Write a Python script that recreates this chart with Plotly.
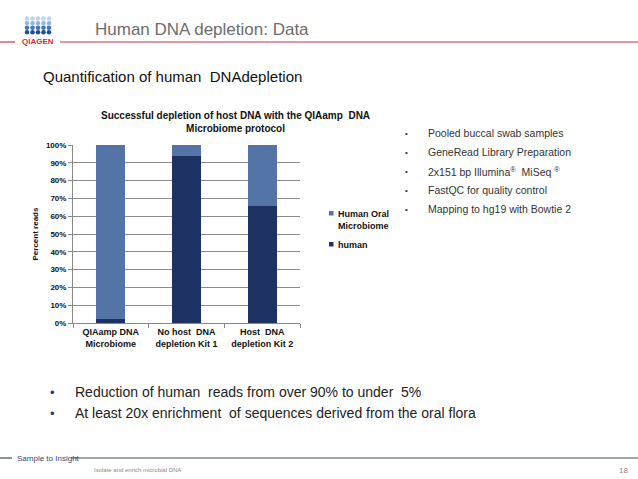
import plotly.graph_objects as go

categories = ["QIAamp DNA<br>Microbiome", "No host  DNA<br>depletion Kit 1", "Host  DNA<br>depletion Kit 2"]
human = [2.5, 94.0, 65.5]
microbiome = [97.5, 6.0, 34.5]
tick_vals = [0, 10, 20, 30, 40, 50, 60, 70, 80, 90, 100]
tick_text = [f"{v}%" for v in tick_vals]
series_names = ["Human Oral<br>Microbiome", "human"]
side_bullets = ["Pooled buccal swab samples", "GeneRead Library Preparation",
                "2x151 bp Illumina<sup>®</sup>  MiSeq <sup>®</sup>", "FastQC for quality control",
                "Mapping to hg19 with Bowtie 2"]
main_bullets = ["Reduction of human  reads from over 90% to under  5%",
                "At least 20x enrichment  of sequences derived from the oral flora"]

W, H = 638, 479
L, R, T, B = 73, 300, 145, 323
pw, ph = R - L, B - T

def X(px):
    return (px - L) / pw

def Y(py):
    return (B - py) / ph

FONT = "Liberation Sans, Arial, sans-serif"
C_MICRO = "#5473A6"
C_HUMAN = "#1E3163"

fig = go.Figure()
fig.add_trace(go.Bar(x=categories, y=human, name=series_names[1], marker_color=C_HUMAN,
                     marker_line_width=0))
fig.add_trace(go.Bar(x=categories, y=microbiome, name=series_names[0],
                     marker_color=C_MICRO, marker_line_width=0))

ann = []
shapes = []

def text(px, py, t, size, color, xanchor="left", yanchor="middle"):
    ann.append(dict(x=X(px), y=Y(py), xref="paper", yref="paper", text=t, showarrow=False,
                    xanchor=xanchor, yanchor=yanchor, align="left",
                    font=dict(size=size, color=color, family=FONT)))

def hline(x0, x1, py, color, w=1.2):
    shapes.append(dict(type="line", xref="paper", yref="paper", x0=X(x0), x1=X(x1), y0=Y(py), y1=Y(py),
                       line=dict(color=color, width=w)))

def rect(x0, x1, y0, y1, color):
    shapes.append(dict(type="rect", xref="paper", yref="paper", x0=X(x0), x1=X(x1), y0=Y(y1), y1=Y(y0),
                       fillcolor=color, line=dict(width=0)))

# header
text(93, 29, "Human DNA depletion: Data", 17, "#6d6d6d")
text(41, 77, "Quantification of human  DNAdepletion", 15, "#111111")
hline(0, 15, 42, "#C8344F")
hline(60, 638, 42, "#C8344F")
# logo dots
row_cols = ["#bcd5ee", "#8fb5de", "#3f77b5", "#1f4f8f"]
for r, c in enumerate(row_cols):
    for k in range(5):
        cx, cy = 27 + k * 5.5, 18.5 + r * 4.6
        shapes.append(dict(type="circle", xref="paper", yref="paper",
                           x0=X(cx - 2.3), x1=X(cx + 2.3), y0=Y(cy - 2.2), y1=Y(cy + 2.2),
                           fillcolor=c, line=dict(width=0)))
text(37.5, 41.5, "<b>QIAGEN</b>", 8, "#cc2a3d", xanchor="center")

# chart title
ann.append(dict(x=X(235), y=Y(122), xref="paper", yref="paper",
                text="<b>Successful depletion of host DNA with the QIAamp  DNA<br>Microbiome protocol</b>",
                showarrow=False, xanchor="center", yanchor="middle", align="center",
                font=dict(size=10, color="#111111", family=FONT)))

# legend (drawn manually for compact Excel-like look)
rect(329, 333.5, 211, 215.5, C_MICRO)
text(336, 219.5, "<b>" + series_names[0] + "</b>", 9, "#111111")
rect(329, 333.5, 242, 246.5, C_HUMAN)
text(336, 244.5, "<b>" + series_names[1] + "</b>", 9, "#111111")

# side bullets
for i, t in enumerate(side_bullets):
    yy = 133 + i * 19
    text(406, yy, "•", 8, "#333333", xanchor="center")
    text(426, yy, t, 10.5, "#333333")

# main bullets
for i, t in enumerate(main_bullets):
    yy = 392 + i * 21
    text(52, yy, "•", 13, "#1f3b73", xanchor="center")
    text(73, yy, t, 14, "#222222")

# footer
hline(0, 12, 458, "#3e4d63")
hline(71, 638, 458, "#3e4d63")
text(15, 458, "Sample to Insight", 8, "#2e4a78")
text(92, 470, "Isolate and enrich microbial DNA", 6, "#8a8a8a")
text(630, 470, "18", 8, "#8a8a8a", xanchor="right")

fig.update_layout(
    width=W, height=H,
    margin=dict(l=L, r=W - R, t=T, b=H - B, pad=0),
    paper_bgcolor="white", plot_bgcolor="white",
    barmode="stack", bargap=0.62,
    font=dict(family=FONT, color="#111111"),
    annotations=ann, shapes=shapes,
    showlegend=False,
    xaxis=dict(range=[-0.5, 2.5], showline=True, linecolor="#888888", linewidth=1, ticks="outside",
               tickson="boundaries", ticklen=4, tickcolor="#888888", tickangle=0,
               tickfont=dict(size=9, color="#111111", family=FONT),
               tickprefix="<b>", ticksuffix="</b>"),
    yaxis=dict(range=[0, 100], tickvals=tick_vals, ticktext=[f"<b>{t}</b>" for t in tick_text],
               showgrid=True, gridcolor="#8c8c8c", gridwidth=1, showline=True, linecolor="#888888",
               ticks="outside", ticklen=4, tickcolor="#888888",
               tickfont=dict(size=8, color="#111111", family=FONT),
               title=dict(text="<b>Percent reads</b>", font=dict(size=8, color="#111111", family=FONT),
                          standoff=6),
               zeroline=False),
)

fig.write_html("out.html")
